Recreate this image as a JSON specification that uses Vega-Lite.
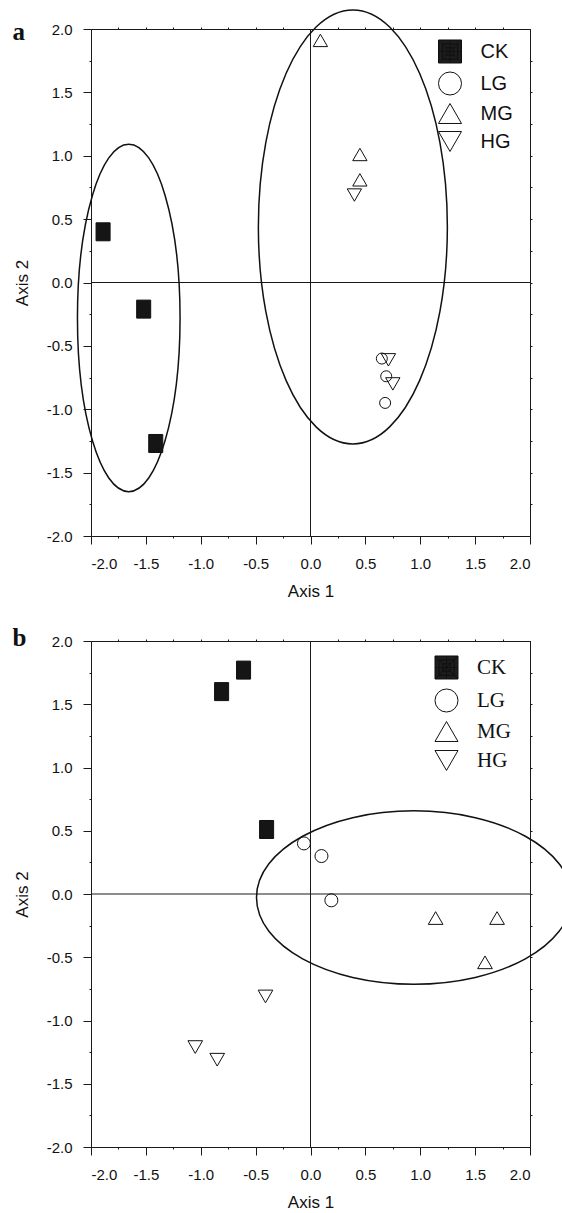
{
  "$schema": "https://vega.github.io/schema/vega-lite/v6.json",
  "padding": {"left": 12, "top": 6, "right": 0, "bottom": 0},
  "background": "white",
  "spacing": 25,
  "resolve": {"scale": {"shape": "independent"}, "legend": {"shape": "independent"}},
  "datasets": {
    "pa": [
      {"group": "CK", "x": -1.89, "y": 0.40},
      {"group": "CK", "x": -1.52, "y": -0.21},
      {"group": "CK", "x": -1.41, "y": -1.27},
      {"group": "MG", "x": 0.09, "y": 1.91},
      {"group": "MG", "x": 0.45, "y": 1.01},
      {"group": "MG", "x": 0.45, "y": 0.81},
      {"group": "HG", "x": 0.40, "y": 0.69},
      {"group": "HG", "x": 0.71, "y": -0.61},
      {"group": "HG", "x": 0.75, "y": -0.80},
      {"group": "LG", "x": 0.65, "y": -0.60},
      {"group": "LG", "x": 0.69, "y": -0.74},
      {"group": "LG", "x": 0.68, "y": -0.95}
    ],
    "pb": [
      {"group": "CK", "x": -0.81, "y": 1.60},
      {"group": "CK", "x": -0.61, "y": 1.77},
      {"group": "CK", "x": -0.40, "y": 0.51},
      {"group": "LG", "x": -0.06, "y": 0.40},
      {"group": "LG", "x": 0.10, "y": 0.30},
      {"group": "LG", "x": 0.19, "y": -0.05},
      {"group": "MG", "x": 1.14, "y": -0.19},
      {"group": "MG", "x": 1.70, "y": -0.19},
      {"group": "MG", "x": 1.59, "y": -0.54},
      {"group": "HG", "x": -0.41, "y": -0.81},
      {"group": "HG", "x": -1.05, "y": -1.21},
      {"group": "HG", "x": -0.85, "y": -1.31}
    ],
    "ell": [
      {"id": "a-left", "x": -1.656, "y": -0.28},
      {"id": "a-right", "x": 0.386, "y": 0.438},
      {"id": "b", "x": 0.943, "y": -0.028}
    ],
    "labels": [
      {"panel": "a", "x": -2.715, "y": 1.916},
      {"panel": "b", "x": -2.715, "y": 1.960}
    ]
  },
  "config": {
    "view": {"stroke": "#1a1a1a", "strokeWidth": 1},
    "axis": {
      "grid": false,
      "domainColor": "#1a1a1a",
      "tickColor": "#1a1a1a",
      "labelColor": "#111111",
      "titleColor": "#111111",
      "labelFont": "Liberation Sans",
      "titleFont": "Liberation Sans",
      "labelFontSize": 15,
      "titleFontSize": 17,
      "titleFontWeight": "normal",
      "labelOverlap": false
    }
  },
  "vconcat": [
    {
      "width": 439,
      "height": 507,
      "resolve": {"axis": {"x": "independent", "y": "independent"}},
      "layer": [
        {
          "data": {"values": [{}]},
          "mark": {"type": "rule", "color": "#1a1a1a", "strokeWidth": 1},
          "encoding": {
            "y": {"datum": 0, "type": "quantitative", "scale": {"domain": [-2, 2], "nice": false, "zero": false},
              "axis": {"orient": "left", "title": "Axis 2", "values": [-2, -1.75, -1.5, -1.25, -1, -0.75, -0.5, -0.25, 0, 0.25, 0.5, 0.75, 1, 1.25, 1.5, 1.75, 2], "format": ".1f",
                "labelExpr": "abs(datum.value*2 - round(datum.value*2)) < 0.001 ? replace(datum.label, '\u2212', '-') : ''",
                "tickSize": {"condition": {"test": "abs(datum.value*2 - round(datum.value*2)) < 0.001", "value": 8}, "value": 2},
                "labelPadding": 11, "titlePadding": 15}}
          }
        },
        {
          "data": {"values": [{}]},
          "mark": {"type": "rule", "color": "#1a1a1a", "strokeWidth": 1},
          "encoding": {
            "x": {"datum": 0, "type": "quantitative", "scale": {"domain": [-2, 2], "nice": false, "zero": false},
              "axis": {"orient": "bottom", "title": "Axis 1", "values": [-2, -1.75, -1.5, -1.25, -1, -0.75, -0.5, -0.25, 0, 0.25, 0.5, 0.75, 1, 1.25, 1.5, 1.75, 2], "format": ".1f",
                "labelExpr": "abs(datum.value*2 - round(datum.value*2)) < 0.001 ? replace(datum.label, '\u2212', '-') : ''",
                "tickSize": {"condition": {"test": "abs(datum.value*2 - round(datum.value*2)) < 0.001", "value": 8}, "value": 2},
                "labelPadding": 12, "titlePadding": 12}}
          }
        },
        {
          "data": {"name": "ell"},
          "transform": [{"filter": "datum.id === 'a-left'"}],
          "mark": {"type": "point", "shape": "M-1,0C-1,-1.870,-0.5523,-3.386,0,-3.386C0.5523,-3.386,1,-1.870,1,0C1,1.870,0.5523,3.386,0,3.386C-0.5523,3.386,-1,1.870,-1,0Z", "size": 10527, "filled": false, "stroke": "#111111", "strokeWidth": 1.5, "opacity": 1},
          "encoding": {
            "x": {"field": "x", "type": "quantitative", "scale": {"domain": [-2, 2], "nice": false, "zero": false}, "axis": null},
            "y": {"field": "y", "type": "quantitative", "scale": {"domain": [-2, 2], "nice": false, "zero": false}, "axis": null}
          }
        },
        {
          "data": {"name": "ell"},
          "transform": [{"filter": "datum.id === 'a-right'"}],
          "mark": {"type": "point", "shape": "M-1,0C-1,-1.268,-0.5523,-2.296,0,-2.296C0.5523,-2.296,1,-1.268,1,0C1,1.268,0.5523,2.296,0,2.296C-0.5523,2.296,-1,1.268,-1,0Z", "size": 35721, "filled": false, "stroke": "#111111", "strokeWidth": 1.5, "opacity": 1},
          "encoding": {
            "x": {"field": "x", "type": "quantitative", "scale": {"domain": [-2, 2], "nice": false, "zero": false}, "axis": null},
            "y": {"field": "y", "type": "quantitative", "scale": {"domain": [-2, 2], "nice": false, "zero": false}, "axis": null}
          }
        },
        {
          "data": {"name": "pa"},
          "transform": [{"filter": "datum.group === 'CK'"}],
          "mark": {"type": "point", "shape": "M-0.78,-1L0.78,-1L0.78,1L-0.78,1Z", "size": 324, "filled": true, "fill": "#151515", "stroke": "#111111", "strokeWidth": 1, "opacity": 1},
          "encoding": {
            "x": {"field": "x", "type": "quantitative", "scale": {"domain": [-2, 2], "nice": false, "zero": false},
              "axis": {"orient": "top", "title": null, "labels": false, "values": [-1.75, -1.5, -1.25, -1, -0.75, -0.5, -0.25, 0.25, 0.5, 0.75, 1, 1.25, 1.5, 1.75], "tickSize": 2}},
            "y": {"field": "y", "type": "quantitative", "scale": {"domain": [-2, 2], "nice": false, "zero": false},
              "axis": {"orient": "right", "title": null, "labels": false, "values": [-1.75, -1.5, -1.25, -1, -0.75, -0.5, -0.25, 0, 0.25, 0.5, 0.75, 1, 1.25, 1.5, 1.75], "tickSize": 2}}
          }
        },
        {
          "data": {"name": "pa"},
          "transform": [{"filter": "datum.group === 'LG'"}],
          "mark": {"type": "point", "shape": "circle", "size": 121, "filled": false, "stroke": "#111111", "strokeWidth": 1, "opacity": 1},
          "encoding": {
            "x": {"field": "x", "type": "quantitative", "scale": {"domain": [-2, 2], "nice": false, "zero": false}, "axis": null},
            "y": {"field": "y", "type": "quantitative", "scale": {"domain": [-2, 2], "nice": false, "zero": false}, "axis": null}
          }
        },
        {
          "data": {"name": "pa"},
          "transform": [{"filter": "datum.group === 'MG' || datum.group === 'HG'"}],
          "mark": {"type": "point", "size": 205, "filled": false, "color": "#111111", "strokeWidth": 1, "opacity": 1},
          "encoding": {
            "x": {"field": "x", "type": "quantitative", "scale": {"domain": [-2, 2], "nice": false, "zero": false}, "axis": null},
            "y": {"field": "y", "type": "quantitative", "scale": {"domain": [-2, 2], "nice": false, "zero": false}, "axis": null},
            "shape": {"field": "group", "type": "nominal",
              "scale": {"domain": ["CK", "LG", "MG", "HG"], "range": ["M-1,-1L1,-1L1,1L-1,1Z M-0.95,-0.95L0.95,-0.95L0.95,0.95L-0.95,0.95Z M-0.9,-0.9L0.9,-0.9L0.9,0.9L-0.9,0.9Z M-0.85,-0.85L0.85,-0.85L0.85,0.85L-0.85,0.85Z M-0.8,-0.8L0.8,-0.8L0.8,0.8L-0.8,0.8Z M-0.75,-0.75L0.75,-0.75L0.75,0.75L-0.75,0.75Z M-0.7,-0.7L0.7,-0.7L0.7,0.7L-0.7,0.7Z M-0.65,-0.65L0.65,-0.65L0.65,0.65L-0.65,0.65Z M-0.6,-0.6L0.6,-0.6L0.6,0.6L-0.6,0.6Z M-0.55,-0.55L0.55,-0.55L0.55,0.55L-0.55,0.55Z M-0.5,-0.5L0.5,-0.5L0.5,0.5L-0.5,0.5Z M-0.45,-0.45L0.45,-0.45L0.45,0.45L-0.45,0.45Z M-0.4,-0.4L0.4,-0.4L0.4,0.4L-0.4,0.4Z M-0.35,-0.35L0.35,-0.35L0.35,0.35L-0.35,0.35Z M-0.3,-0.3L0.3,-0.3L0.3,0.3L-0.3,0.3Z M-0.25,-0.25L0.25,-0.25L0.25,0.25L-0.25,0.25Z M-0.2,-0.2L0.2,-0.2L0.2,0.2L-0.2,0.2Z M-0.15,-0.15L0.15,-0.15L0.15,0.15L-0.15,0.15Z M-0.1,-0.1L0.1,-0.1L0.1,0.1L-0.1,0.1Z M-0.05,-0.05L0.05,-0.05L0.05,0.05L-0.05,0.05Z M-1,0L1,0 M0,-1L0,1 M-1,-1L1,1 M-1,1L1,-1", "circle", "triangle-up", "triangle-down"]},
              "legend": {"title": null, "orient": "none", "legendX": 346.5, "legendY": 10, "padding": 0, "rowPadding": 3, "labelOffset": 18, "symbolSize": 530,
                "symbolStrokeWidth": 1, "labelFont": "Liberation Sans", "labelFontSize": 20, "labelColor": "#111111"}}
          }
        },
        {
          "data": {"name": "labels"},
          "transform": [{"filter": "datum.panel === 'a'"}],
          "mark": {"type": "text", "align": "left", "baseline": "alphabetic", "font": "Liberation Serif", "fontWeight": "bold", "fontSize": 25, "color": "#111111"},
          "encoding": {
            "text": {"field": "panel"},
            "x": {"field": "x", "type": "quantitative", "scale": {"domain": [-2, 2], "nice": false, "zero": false}, "axis": null},
            "y": {"field": "y", "type": "quantitative", "scale": {"domain": [-2, 2], "nice": false, "zero": false}, "axis": null}
          }
        }
      ]
    },
    {
      "width": 439,
      "height": 506,
      "resolve": {"axis": {"x": "independent", "y": "independent"}},
      "layer": [
        {
          "data": {"values": [{}]},
          "mark": {"type": "rule", "color": "#1a1a1a", "strokeWidth": 1},
          "encoding": {
            "y": {"datum": 0, "type": "quantitative", "scale": {"domain": [-2, 2], "nice": false, "zero": false},
              "axis": {"orient": "left", "title": "Axis 2", "values": [-2, -1.75, -1.5, -1.25, -1, -0.75, -0.5, -0.25, 0, 0.25, 0.5, 0.75, 1, 1.25, 1.5, 1.75, 2], "format": ".1f",
                "labelExpr": "abs(datum.value*2 - round(datum.value*2)) < 0.001 ? replace(datum.label, '\u2212', '-') : ''",
                "tickSize": {"condition": {"test": "abs(datum.value*2 - round(datum.value*2)) < 0.001", "value": 8}, "value": 2},
                "labelPadding": 11, "titlePadding": 15}}
          }
        },
        {
          "data": {"values": [{}]},
          "mark": {"type": "rule", "color": "#1a1a1a", "strokeWidth": 1},
          "encoding": {
            "x": {"datum": 0, "type": "quantitative", "scale": {"domain": [-2, 2], "nice": false, "zero": false},
              "axis": {"orient": "bottom", "title": "Axis 1", "values": [-2, -1.75, -1.5, -1.25, -1, -0.75, -0.5, -0.25, 0, 0.25, 0.5, 0.75, 1, 1.25, 1.5, 1.75, 2], "format": ".1f",
                "labelExpr": "abs(datum.value*2 - round(datum.value*2)) < 0.001 ? replace(datum.label, '\u2212', '-') : ''",
                "tickSize": {"condition": {"test": "abs(datum.value*2 - round(datum.value*2)) < 0.001", "value": 8}, "value": 2},
                "labelPadding": 12, "titlePadding": 12}}
          }
        },
        {
          "data": {"name": "ell"},
          "transform": [{"filter": "datum.id === 'b'"}],
          "mark": {"type": "point", "shape": "M-1,0C-1,-0.3040,-0.5523,-0.5505,0,-0.5505C0.5523,-0.5505,1,-0.3040,1,0C1,0.3040,0.5523,0.5505,0,0.5505C-0.5523,0.5505,-1,0.3040,-1,0Z", "size": 99225, "filled": false, "stroke": "#111111", "strokeWidth": 1.5, "opacity": 1},
          "encoding": {
            "x": {"field": "x", "type": "quantitative", "scale": {"domain": [-2, 2], "nice": false, "zero": false}, "axis": null},
            "y": {"field": "y", "type": "quantitative", "scale": {"domain": [-2, 2], "nice": false, "zero": false}, "axis": null}
          }
        },
        {
          "data": {"name": "pb"},
          "transform": [{"filter": "datum.group === 'CK'"}],
          "mark": {"type": "point", "shape": "M-0.78,-1L0.78,-1L0.78,1L-0.78,1Z", "size": 324, "filled": true, "fill": "#151515", "stroke": "#111111", "strokeWidth": 1, "opacity": 1},
          "encoding": {
            "x": {"field": "x", "type": "quantitative", "scale": {"domain": [-2, 2], "nice": false, "zero": false},
              "axis": {"orient": "top", "title": null, "labels": false, "values": [-1.75, -1.5, -1.25, -1, -0.75, -0.5, -0.25, 0.25, 0.5, 0.75, 1, 1.25, 1.5, 1.75], "tickSize": 2}},
            "y": {"field": "y", "type": "quantitative", "scale": {"domain": [-2, 2], "nice": false, "zero": false},
              "axis": {"orient": "right", "title": null, "labels": false, "values": [-1.75, -1.5, -1.25, -1, -0.75, -0.5, -0.25, 0, 0.25, 0.5, 0.75, 1, 1.25, 1.5, 1.75], "tickSize": 2}}
          }
        },
        {
          "data": {"name": "pb"},
          "transform": [{"filter": "datum.group === 'LG'"}],
          "mark": {"type": "point", "shape": "circle", "size": 169, "filled": false, "stroke": "#111111", "strokeWidth": 1, "opacity": 1},
          "encoding": {
            "x": {"field": "x", "type": "quantitative", "scale": {"domain": [-2, 2], "nice": false, "zero": false}, "axis": null},
            "y": {"field": "y", "type": "quantitative", "scale": {"domain": [-2, 2], "nice": false, "zero": false}, "axis": null}
          }
        },
        {
          "data": {"name": "pb"},
          "transform": [{"filter": "datum.group === 'MG' || datum.group === 'HG'"}],
          "mark": {"type": "point", "size": 215, "filled": false, "color": "#111111", "strokeWidth": 1, "opacity": 1},
          "encoding": {
            "x": {"field": "x", "type": "quantitative", "scale": {"domain": [-2, 2], "nice": false, "zero": false}, "axis": null},
            "y": {"field": "y", "type": "quantitative", "scale": {"domain": [-2, 2], "nice": false, "zero": false}, "axis": null},
            "shape": {"field": "group", "type": "nominal",
              "scale": {"domain": ["CK", "LG", "MG", "HG"], "range": ["M-1,-1L1,-1L1,1L-1,1Z M-0.95,-0.95L0.95,-0.95L0.95,0.95L-0.95,0.95Z M-0.9,-0.9L0.9,-0.9L0.9,0.9L-0.9,0.9Z M-0.85,-0.85L0.85,-0.85L0.85,0.85L-0.85,0.85Z M-0.8,-0.8L0.8,-0.8L0.8,0.8L-0.8,0.8Z M-0.75,-0.75L0.75,-0.75L0.75,0.75L-0.75,0.75Z M-0.7,-0.7L0.7,-0.7L0.7,0.7L-0.7,0.7Z M-0.65,-0.65L0.65,-0.65L0.65,0.65L-0.65,0.65Z M-0.6,-0.6L0.6,-0.6L0.6,0.6L-0.6,0.6Z M-0.55,-0.55L0.55,-0.55L0.55,0.55L-0.55,0.55Z M-0.5,-0.5L0.5,-0.5L0.5,0.5L-0.5,0.5Z M-0.45,-0.45L0.45,-0.45L0.45,0.45L-0.45,0.45Z M-0.4,-0.4L0.4,-0.4L0.4,0.4L-0.4,0.4Z M-0.35,-0.35L0.35,-0.35L0.35,0.35L-0.35,0.35Z M-0.3,-0.3L0.3,-0.3L0.3,0.3L-0.3,0.3Z M-0.25,-0.25L0.25,-0.25L0.25,0.25L-0.25,0.25Z M-0.2,-0.2L0.2,-0.2L0.2,0.2L-0.2,0.2Z M-0.15,-0.15L0.15,-0.15L0.15,0.15L-0.15,0.15Z M-0.1,-0.1L0.1,-0.1L0.1,0.1L-0.1,0.1Z M-0.05,-0.05L0.05,-0.05L0.05,0.05L-0.05,0.05Z M-1,0L1,0 M0,-1L0,1 M-1,-1L1,1 M-1,1L1,-1", "circle", "triangle-up", "triangle-down"]},
              "legend": {"title": null, "orient": "none", "legendX": 343, "legendY": 14, "padding": 0, "rowPadding": 4, "labelOffset": 18, "symbolSize": 530,
                "symbolStrokeWidth": 1, "labelFont": "Liberation Serif", "labelFontSize": 21, "labelColor": "#111111"}}
          }
        },
        {
          "data": {"name": "labels"},
          "transform": [{"filter": "datum.panel === 'b'"}],
          "mark": {"type": "text", "align": "left", "baseline": "alphabetic", "font": "Liberation Serif", "fontWeight": "bold", "fontSize": 25, "color": "#111111"},
          "encoding": {
            "text": {"field": "panel"},
            "x": {"field": "x", "type": "quantitative", "scale": {"domain": [-2, 2], "nice": false, "zero": false}, "axis": null},
            "y": {"field": "y", "type": "quantitative", "scale": {"domain": [-2, 2], "nice": false, "zero": false}, "axis": null}
          }
        }
      ]
    }
  ]
}
